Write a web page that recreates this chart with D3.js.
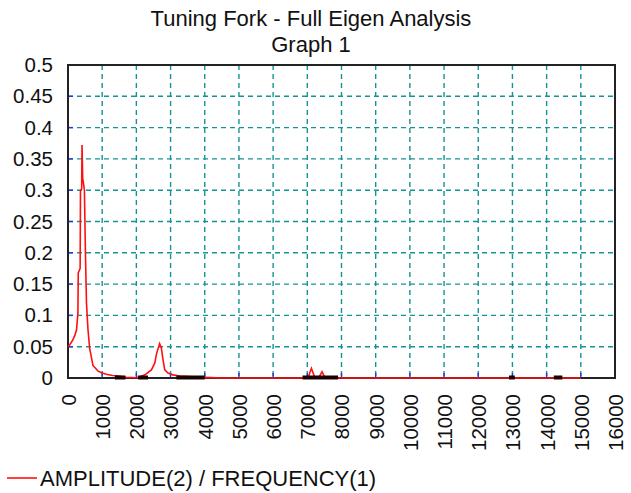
<!DOCTYPE html>
<html>
<head>
<meta charset="utf-8">
<script src="https://cdn.jsdelivr.net/npm/d3@7"></script>
<style>
  html, body { margin: 0; padding: 0; background: #fff; }
  svg { display: block; }
  text { font-family: "Liberation Sans", Arial, sans-serif; fill: #111; }
</style>
</head>
<body>
<svg id="chart" width="631" height="493"></svg>
<script>
// Frequency response: amplitude of node 2 against excitation frequency (Hz)
const frequency = [0, 50, 100, 150, 200, 250, 290, 300, 355, 365, 400, 410, 430, 445, 480, 510, 540, 585, 635, 730, 880, 1000, 1120, 1300, 1450, 1700, 2000, 2100, 2250, 2440, 2540, 2590, 2680, 2730, 2780, 2830, 2925, 3070, 3270, 3650, 4000, 4500, 7020, 7120, 7215, 7340, 7430, 7510, 8000, 15000];
const amplitude = [0.050, 0.053, 0.057, 0.062, 0.068, 0.077, 0.104, 0.168, 0.175, 0.300, 0.302, 0.372, 0.318, 0.314, 0.300, 0.200, 0.120, 0.077, 0.047, 0.020, 0.011, 0.008, 0.006, 0.004, 0.0035, 0.001, 0.0005, 0.002, 0.005, 0.013, 0.024, 0.039, 0.055, 0.048, 0.029, 0.013, 0.008, 0.005, 0.003, 0.002, 0.001, 0, 0, 0.0155, 0.001, 0.001, 0.010, 0.001, 0, 0];

// Frequency bands where the response sits on the zero line (drawn as heavy markers)
const zeroBandStart = [1370, 2050, 3170, 6860, 12900, 14210];
const zeroBandEnd   = [1680, 2340, 4000, 7900, 13070, 14460];

// Axis ticks
const xTicks = d3.range(0, 16001, 1000);
const yTicks = [0, 0.05, 0.1, 0.15, 0.2, 0.25, 0.3, 0.35, 0.4, 0.45, 0.5];
const yTickLabels = ["0", "0.05", "0.1", "0.15", "0.2", "0.25", "0.3", "0.35", "0.4", "0.45", "0.5"];

const titleText = "Tuning Fork - Full Eigen Analysis";
const subtitleText = "Graph 1";
const legendText = "AMPLITUDE(2) / FREQUENCY(1)";

const svg = d3.select("#chart");
const plot = { left: 68, right: 615, top: 65, bottom: 378 };

const x = d3.scaleLinear().domain([0, 16000]).range([plot.left, plot.right]);
const y = d3.scaleLinear().domain([0, 0.5]).range([plot.bottom, plot.top]);

// Titles
svg.append("text").attr("x", 311).attr("y", 26).attr("text-anchor", "middle")
  .style("font-size", "22px").text(titleText);
svg.append("text").attr("x", 311).attr("y", 52).attr("text-anchor", "middle")
  .style("font-size", "22px").text(subtitleText);

// Dashed grid
const gridColor = "#159494";
svg.append("g").selectAll("line")
  .data(yTicks.filter(v => v > 0 && v < 0.5))
  .join("line")
  .attr("x1", plot.left).attr("x2", plot.right)
  .attr("y1", d => y(d)).attr("y2", d => y(d))
  .attr("stroke", gridColor).attr("stroke-width", 1.4)
  .attr("stroke-dasharray", "5,4");
svg.append("g").selectAll("line")
  .data(xTicks.filter(v => v > 0 && v < 16000))
  .join("line")
  .attr("x1", d => x(d)).attr("x2", d => x(d))
  .attr("y1", plot.top).attr("y2", plot.bottom)
  .attr("stroke", gridColor).attr("stroke-width", 1.4)
  .attr("stroke-dasharray", "5,4");

// Short blue tick marks inside the frame
svg.append("g").selectAll("line")
  .data(yTicks.filter(v => v > 0 && v < 0.5))
  .join("line")
  .attr("x1", plot.left).attr("x2", plot.left + 5)
  .attr("y1", d => y(d)).attr("y2", d => y(d))
  .attr("stroke", "#2233ee").attr("stroke-width", 1.4);
svg.append("g").selectAll("line")
  .data(xTicks.filter(v => v > 0 && v < 16000))
  .join("line")
  .attr("x1", d => x(d)).attr("x2", d => x(d))
  .attr("y1", plot.bottom).attr("y2", plot.bottom - 5)
  .attr("stroke", "#2233ee").attr("stroke-width", 1.4);

// Frame
svg.append("rect")
  .attr("x", plot.left).attr("y", plot.top)
  .attr("width", plot.right - plot.left).attr("height", plot.bottom - plot.top)
  .attr("fill", "none").attr("stroke", "#222").attr("stroke-width", 2);

// Y axis labels
const yAxis = d3.axisLeft(y).tickValues(yTicks).tickSize(0).tickPadding(15)
  .tickFormat((d, i) => yTickLabels[i]);
const gy = svg.append("g").attr("transform", `translate(${plot.left},0)`).call(yAxis);
gy.select(".domain").remove();
gy.selectAll("text").style("font-size", "20.5px").style("font-family", '"Liberation Sans", Arial, sans-serif').attr("fill", "#111");

// X axis labels, rotated
const xAxis = d3.axisBottom(x).tickValues(xTicks).tickSize(0).tickFormat(d3.format("d"));
const gx = svg.append("g").attr("transform", `translate(0,${plot.bottom})`).call(xAxis);
gx.select(".domain").remove();
gx.selectAll("text")
  .style("font-size", "20.5px").style("font-family", '"Liberation Sans", Arial, sans-serif').attr("fill", "#111")
  .attr("transform", "rotate(-90)")
  .attr("text-anchor", "end")
  .attr("x", -16).attr("y", 0).attr("dy", "0.36em");

// Response curve
const pts = frequency.map((f, i) => [f, amplitude[i]]);
const line = d3.line().x(d => x(d[0])).y(d => y(d[1]));
svg.append("path").datum(pts)
  .attr("d", line)
  .attr("fill", "none").attr("stroke", "#ff1010").attr("stroke-width", 1.6)
  .attr("stroke-linejoin", "miter");

// Zero-level markers
svg.append("g").selectAll("line")
  .data(zeroBandStart.map((s, i) => [s, zeroBandEnd[i]]))
  .join("line")
  .attr("x1", d => x(d[0])).attr("x2", d => x(d[1]))
  .attr("y1", y(0) - 0.5).attr("y2", y(0) - 0.5)
  .attr("stroke", "#1a0000").attr("stroke-width", 4);

// Legend
svg.append("line").attr("x1", 7).attr("x2", 37).attr("y1", 478).attr("y2", 478)
  .attr("stroke", "#ff1010").attr("stroke-width", 1.6);
svg.append("text").attr("x", 40).attr("y", 486).style("font-size", "22px").text(legendText);
</script>
</body>
</html>
